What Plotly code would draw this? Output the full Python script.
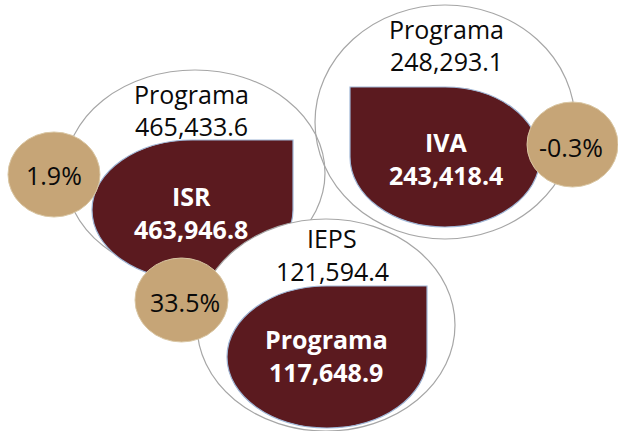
import plotly.graph_objects as go

# ---- data ----
impuestos = ["ISR", "IVA", "IEPS"]
etiqueta_sup = ["Programa", "Programa", "IEPS"]
valor_sup = [465433.6, 248293.1, 121594.4]
etiqueta_inf = ["ISR", "IVA", "Programa"]
valor_inf = [463946.8, 243418.4, 117648.9]
variacion = [1.9, -0.3, 33.5]

# ---- layout geometry (pixel space, y down) ----
W, H = 618, 431
ellipses = {"ISR": (65, 70, 325, 276), "IVA": (315, 5, 575, 239), "IEPS": (197, 219, 455, 431)}
drops = {"ISR": ((92, 140, 293, 280), "tr"), "IVA": ((350, 87, 540, 227), "tl"),
         "IEPS": ((227, 286, 427, 428), "tr")}
badges = {"ISR": (8, 132, 100, 217), "IVA": (527, 102, 618, 187), "IEPS": (135, 258, 228, 342)}
sup_pos = {"ISR": (191, 94, 126), "IVA": (446, 29, 61), "IEPS": (332, 238, 271)}
inf_pos = {"ISR": (191, 196, 229), "IVA": (446, 142, 175), "IEPS": (326, 339, 372)}
badge_txt = {"ISR": (54, 175), "IVA": (571, 147), "IEPS": (185, 302)}

MAROON = "#5b1a1f"
TAN = "#c6a577"
K = 0.5523


def drop_path(box, corner):
    x0, y0, x1, y1 = box
    cx, cy = (x0 + x1) / 2, (y0 + y1) / 2
    rx, ry = (x1 - x0) / 2, (y1 - y0) / 2
    if corner == "tr":
        return (f"M{x1},{y0} L{x1},{cy} "
                f"C{x1},{cy + K * ry} {cx + K * rx},{y1} {cx},{y1} "
                f"C{cx - K * rx},{y1} {x0},{cy + K * ry} {x0},{cy} "
                f"C{x0},{cy - K * ry} {cx - K * rx},{y0} {cx},{y0} Z")
    return (f"M{x0},{y0} L{cx},{y0} "
            f"C{cx + K * rx},{y0} {x1},{cy - K * ry} {x1},{cy} "
            f"C{x1},{cy + K * ry} {cx + K * rx},{y1} {cx},{y1} "
            f"C{cx - K * rx},{y1} {x0},{cy + K * ry} {x0},{cy} Z")


def fmt(v):
    return f"{v:,.1f}"


fig = go.Figure()
fig.add_trace(go.Scatter(x=[0, W], y=[0, H], mode="markers", marker=dict(opacity=0),
                         hoverinfo="skip", showlegend=False))

shapes = []
for name in impuestos:
    x0, y0, x1, y1 = ellipses[name]
    shapes.append(dict(type="circle", xref="x", yref="y", x0=x0, y0=y0, x1=x1, y1=y1,
                       line=dict(color="#a6a6a6", width=1.2),
                       fillcolor="white" if name == "IEPS" else "rgba(0,0,0,0)"))
    box, corner = drops[name]
    shapes.append(dict(type="path", xref="x", yref="y", path=drop_path(box, corner),
                       fillcolor=MAROON, line=dict(color="#9fb6d6", width=1.2)))
for name in impuestos:
    x0, y0, x1, y1 = badges[name]
    shapes.append(dict(type="circle", xref="x", yref="y", x0=x0, y0=y0, x1=x1, y1=y1,
                       fillcolor=TAN, line=dict(color="#d9c6a3", width=1)))

annotations = []
FONT = "Open Sans"
for i, name in enumerate(impuestos):
    x, ya, yb = sup_pos[name]
    annotations.append(dict(x=x, y=ya, text=etiqueta_sup[i], showarrow=False,
                            font=dict(family=FONT, size=25, color="#0a0a0a")))
    annotations.append(dict(x=x, y=yb, text=fmt(valor_sup[i]), showarrow=False,
                            font=dict(family=FONT, size=25, color="#0a0a0a")))
    x, ya, yb = inf_pos[name]
    annotations.append(dict(x=x, y=ya, text=f"<b>{etiqueta_inf[i]}</b>", showarrow=False,
                            font=dict(family=FONT, size=25, color="white")))
    annotations.append(dict(x=x, y=yb, text=f"<b>{fmt(valor_inf[i])}</b>", showarrow=False,
                            font=dict(family=FONT, size=25, color="white")))
    bx, by = badge_txt[name]
    annotations.append(dict(x=bx, y=by, text=f"{variacion[i]:.1f}%", showarrow=False,
                            font=dict(family=FONT, size=25, color="#0a0a0a")))

# title line, mostly cut off at the top of the picture
annotations.append(dict(x=265, y=-10, text="(Millones de pesos y variación % real anual)",
                        showarrow=False, font=dict(family=FONT, size=22, color="#777777")))

for a in annotations:
    a.update(xref="x", yref="y", xanchor="center", yanchor="middle")

fig.update_layout(
    width=W, height=H, margin=dict(l=0, r=0, t=0, b=0),
    paper_bgcolor="white", plot_bgcolor="white",
    xaxis=dict(range=[0, W], visible=False, fixedrange=True),
    yaxis=dict(range=[H, 0], visible=False, fixedrange=True),
    shapes=shapes, annotations=annotations, showlegend=False,
)
fig.write_html("out.html", config={"displayModeBar": False},
               post_script="document.body.style.margin='0';document.body.style.overflow='hidden';")
